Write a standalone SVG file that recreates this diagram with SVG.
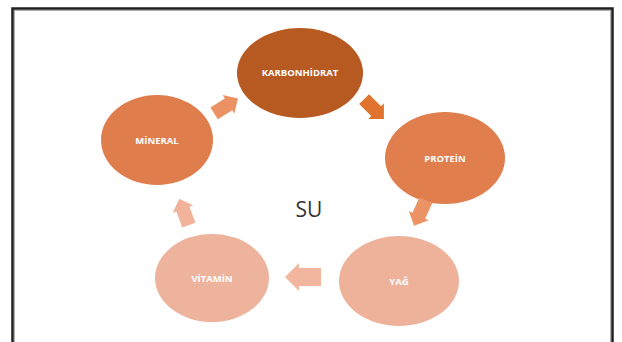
<svg xmlns="http://www.w3.org/2000/svg" width="622" height="342" viewBox="0 0 622 342">
  <defs>
    <style>
      .lbl { font-family: "Open Sans", "Liberation Sans", sans-serif; font-weight: 700; font-size: 9.5px; fill: #ffffff; text-anchor: middle; dominant-baseline: central; }
      .su { font-family: "Open Sans", "Liberation Sans", sans-serif; font-size: 21px; fill: #333333; text-anchor: middle; }
    </style>
    <path id="arrS" d="M-14,-7 L3,-7 L3,-11 L14,0 L3,11 L3,7 L-14,7 Z"/>
    <path id="arrL" d="M-18,-9 L4,-9 L4,-14 L18,0 L4,14 L4,9 L-18,9 Z"/>
  </defs>
  <rect width="622" height="342" fill="#ffffff"/>
  <rect x="12.5" y="8.5" width="600" height="345" fill="none" stroke="#1e1e1e" stroke-width="2.5"/>
  <rect x="14.5" y="10.5" width="596" height="345" fill="none" stroke="#9a9a9a" stroke-width="0.8"/>

  <g id="node-karbonhidrat">
    <ellipse cx="300" cy="73" rx="63" ry="45" fill="#B65A22"/>
    <text class="lbl" x="300" y="72">KARBONHİDRAT</text>
  </g>
  <g id="node-protein">
    <ellipse cx="445" cy="158" rx="60" ry="46" fill="#E07E4E"/>
    <text class="lbl" x="445" y="158">PROTEİN</text>
  </g>
  <g id="node-yag">
    <ellipse cx="399" cy="281" rx="60" ry="45" fill="#EEB29B"/>
    <text class="lbl" x="399" y="281">YAĞ</text>
  </g>
  <g id="node-vitamin">
    <ellipse cx="212" cy="278" rx="57" ry="44" fill="#EEB39C"/>
    <text class="lbl" x="212" y="278">VİTAMİN</text>
  </g>
  <g id="node-mineral">
    <ellipse cx="157" cy="140" rx="56" ry="45" fill="#E07D4D"/>
    <text class="lbl" x="157" y="140">MİNERAL</text>
  </g>
  <g id="node-su">
    <text class="su" x="309" y="217">SU</text>
  </g>

  <g id="connectors">
    <use href="#arrS" transform="translate(226,106) rotate(-32)" fill="#EA9263"/>
    <use href="#arrS" transform="translate(374,109) rotate(45)" fill="#E0732E"/>
    <use href="#arrS" transform="translate(420,213) rotate(115)" fill="#EC9366"/>
    <use href="#arrS" transform="translate(184,212) rotate(-110)" fill="#F1B39A"/>
    <use href="#arrL" transform="translate(303,277) rotate(180)" fill="#F2B69E"/>
  </g>
</svg>
